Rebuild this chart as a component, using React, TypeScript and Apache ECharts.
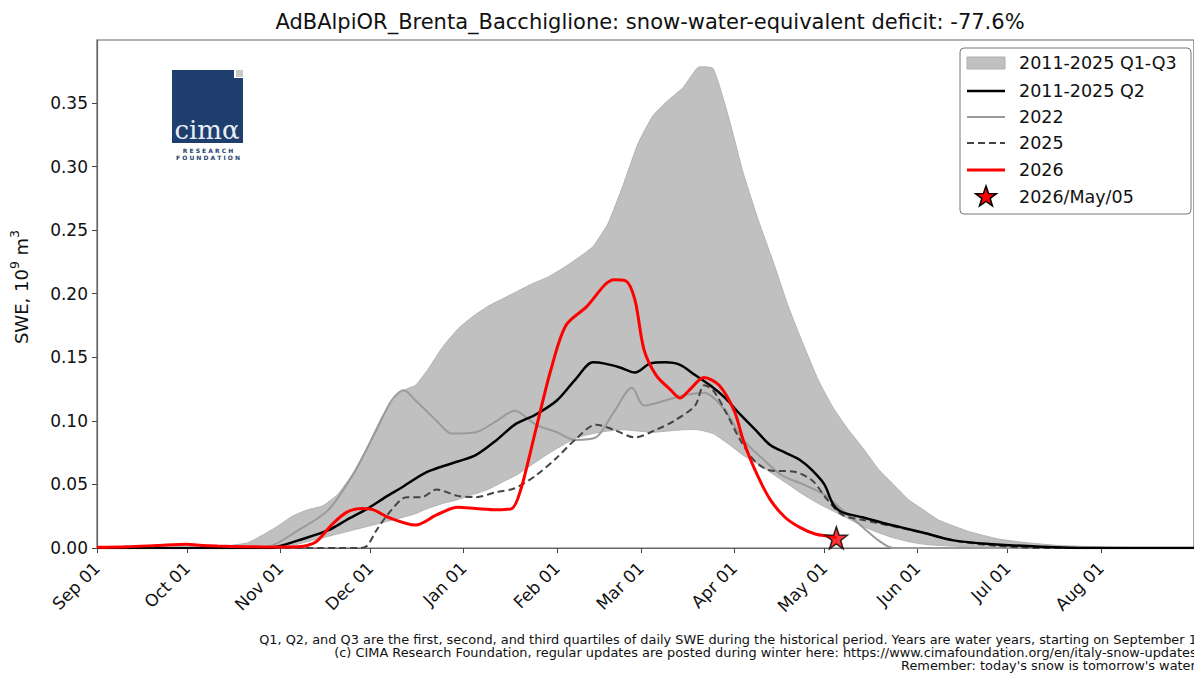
import React, { useEffect, useRef } from "react";
import * as echarts from "echarts";

// ---------- data (day index from Sep 01 of water year) ----------
const monthTicks = [0, 30, 61, 91, 122, 153, 181, 212, 242, 273, 303, 334];
const monthLabels = ["Sep 01", "Oct 01", "Nov 01", "Dec 01", "Jan 01", "Feb 01", "Mar 01", "Apr 01", "May 01", "Jun 01", "Jul 01", "Aug 01"];
const yTicks = [0, 0.05, 0.1, 0.15, 0.2, 0.25, 0.3, 0.35];

const bandDays = [0, 40, 50, 55, 60, 65, 70, 75, 80, 85, 90, 95, 100, 103, 106, 110, 115, 120, 125, 130, 135, 140, 145, 150, 155, 160, 165, 170, 175, 180, 185, 190, 195, 200, 205, 210, 215, 220, 225, 230, 235, 240, 245, 250, 255, 260, 265, 270, 275, 280, 290, 300, 310, 320, 340, 365];
const q3Values = [0, 0.001, 0.004, 0.01, 0.017, 0.025, 0.03, 0.033, 0.042, 0.058, 0.08, 0.104, 0.12, 0.125, 0.128, 0.14, 0.158, 0.172, 0.182, 0.19, 0.196, 0.202, 0.208, 0.213, 0.22, 0.228, 0.237, 0.255, 0.285, 0.318, 0.34, 0.352, 0.362, 0.378, 0.377, 0.34, 0.295, 0.258, 0.225, 0.19, 0.16, 0.132, 0.11, 0.093, 0.078, 0.062, 0.05, 0.038, 0.03, 0.022, 0.013, 0.007, 0.004, 0.002, 0.0005, 0];
const q1Values = [0, 0, 0, 0, 0, 0.002, 0.005, 0.008, 0.011, 0.014, 0.017, 0.02, 0.023, 0.025, 0.027, 0.031, 0.035, 0.038, 0.042, 0.046, 0.052, 0.058, 0.066, 0.074, 0.081, 0.087, 0.09, 0.092, 0.093, 0.092, 0.091, 0.092, 0.093, 0.093, 0.09, 0.082, 0.073, 0.066, 0.058, 0.05, 0.042, 0.035, 0.029, 0.023, 0.017, 0.012, 0.008, 0.005, 0.003, 0.002, 0.001, 0, 0, 0, 0, 0];

const q2Days = [0, 57, 60, 67, 77, 83, 90, 96, 101, 110, 120, 126, 133, 139, 146, 153, 159, 165, 169, 174, 179, 184, 189, 194, 199, 204, 209, 214, 219, 224, 229, 234, 238, 242, 245, 248, 255, 261, 268, 275, 285, 298, 314, 330, 365];
const q2Values = [0, 0, 0.001, 0.006, 0.014, 0.022, 0.031, 0.04, 0.047, 0.06, 0.068, 0.073, 0.085, 0.097, 0.105, 0.116, 0.132, 0.146, 0.145, 0.142, 0.138, 0.145, 0.146, 0.144, 0.136, 0.128, 0.118, 0.105, 0.093, 0.081, 0.075, 0.069, 0.061, 0.05, 0.034, 0.028, 0.024, 0.02, 0.016, 0.012, 0.006, 0.003, 0.001, 0, 0];

const y2022Days = [0, 50, 57, 67, 77, 86, 93, 98, 102, 106, 113, 118, 126, 133, 139, 146, 153, 159, 166, 172, 178, 182, 189, 195, 202, 209, 215, 222, 228, 235, 242, 248, 255, 260, 265, 365];
const y2022Values = [0, 0, 0.001, 0.014, 0.03, 0.061, 0.093, 0.116, 0.124, 0.116, 0.1, 0.09, 0.091, 0.1, 0.108, 0.097, 0.091, 0.085, 0.087, 0.107, 0.126, 0.112, 0.116, 0.12, 0.122, 0.108, 0.085, 0.069, 0.057, 0.05, 0.042, 0.03, 0.016, 0.006, 0, 0];

const y2025Days = [0, 88, 90, 93, 98, 103, 108, 113, 120, 126, 133, 139, 146, 153, 159, 166, 172, 179, 186, 192, 199, 202, 205, 209, 214, 219, 224, 232, 238, 243, 248, 255, 265, 275, 285, 298, 314, 365];
const y2025Values = [0, 0, 0.002, 0.014, 0.03, 0.04, 0.04, 0.046, 0.041, 0.04, 0.044, 0.047, 0.057, 0.071, 0.085, 0.097, 0.093, 0.087, 0.093, 0.1, 0.112, 0.128, 0.124, 0.108, 0.085, 0.068, 0.061, 0.06, 0.053, 0.038, 0.026, 0.022, 0.017, 0.012, 0.006, 0.002, 0, 0];

const y2026Days = [0, 10, 20, 30, 35, 40, 50, 60, 67, 70, 73, 78, 83, 88, 92, 97, 106, 113, 120, 126, 133, 138, 141, 146, 151, 156, 163, 169, 172, 176, 179, 182, 186, 191, 194, 197, 202, 207, 212, 215, 219, 224, 229, 234, 239, 244, 246];
const y2026Values = [0.0005, 0.001, 0.002, 0.003, 0.002, 0.0015, 0.001, 0.0008, 0.001, 0.002, 0.005, 0.018, 0.028, 0.031, 0.03, 0.024, 0.018, 0.026, 0.032, 0.031, 0.03, 0.031, 0.046, 0.093, 0.14, 0.175, 0.19, 0.207, 0.211, 0.21, 0.195, 0.156, 0.136, 0.124, 0.118, 0.124, 0.134, 0.128, 0.108, 0.085, 0.061, 0.038, 0.024, 0.016, 0.011, 0.009, 0.008];

const todayDay = 246;
const todayValue = 0.008;

const titleText = "AdBAlpiOR_Brenta_Bacchiglione: snow-water-equivalent deficit: -77.6%";
const legendLabels = ["2011-2025 Q1-Q3", "2011-2025 Q2", "2022", "2025", "2026", "2026/May/05"];
const footerLines = [
  "Q1, Q2, and Q3 are the first, second, and third quartiles of daily SWE during the historical period. Years are water years, starting on September 1.",
  "(c) CIMA Research Foundation, regular updates are posted during winter here: https://www.cimafoundation.org/en/italy-snow-updates/",
  "Remember: today's snow is tomorrow's water!",
];

const FONT = "DejaVu Sans";

function zip(xs: number[], ys: number[]) {
  return xs.map((x, i) => [x, ys[i]]);
}

function starPoints(cx: number, cy: number, r: number) {
  const pts: number[][] = [];
  for (let i = 0; i < 10; i++) {
    const a = (-90 + i * 36) * Math.PI / 180;
    const rr = i % 2 === 0 ? r : r * 0.4;
    pts.push([cx + rr * Math.cos(a), cy + rr * Math.sin(a)]);
  }
  return pts;
}

const starSymbol = (() => {
  const p = starPoints(0, 0, 1);
  return "path://" + p.map((q, i) => (i ? "L" : "M") + q[0].toFixed(4) + "," + q[1].toFixed(4)).join("") + "Z";
})();

function measure(text: string, font: string) {
  const c = document.createElement("canvas").getContext("2d");
  if (!c) return text.length * 10;
  c.font = font;
  return c.measureText(text).width;
}

export default function App() {
  const ref = useRef<HTMLDivElement>(null);
  useEffect(() => {
    if (!ref.current) return;
    const chart = echarts.init(ref.current, null, { renderer: "svg" });

    const legendX = 967;
    const rowY = [63, 91, 117, 143, 170, 197];

    // y-axis label with superscripts
    const big = `18px '${FONT}'`;
    const small = `12.5px '${FONT}'`;
    const parts = [
      { t: "SWE, 10", f: big, dy: 0 },
      { t: "9", f: small, dy: -7 },
      { t: " m", f: big, dy: 0 },
      { t: "3", f: small, dy: -7 },
    ];
    const widths = parts.map((p) => measure(p.t, p.f));
    const total = widths.reduce((a, b) => a + b, 0);
    let cursor = -total / 2;
    const yLabelChildren = parts.map((p, i) => {
      const el = { type: "text", x: cursor, y: p.dy, style: { text: p.t, font: p.f, fill: "#111", align: "left", verticalAlign: "middle" } };
      cursor += widths[i];
      return el;
    });

    const graphic: any[] = [
      // title
      { type: "text", x: 650, y: 22, style: { text: titleText, font: `21px '${FONT}'`, fill: "#111", align: "center", verticalAlign: "middle" } },
      // y label
      { type: "group", x: 21, y: 287, rotation: Math.PI / 2, children: yLabelChildren },
      // logo
      { type: "rect", shape: { x: 172, y: 70, width: 71, height: 73 }, style: { fill: "#1e3e6d" } },
      { type: "rect", shape: { x: 234, y: 69, width: 10, height: 9 }, style: { fill: "#fff" } },
      { type: "rect", shape: { x: 236, y: 70, width: 7, height: 7 }, style: { fill: "#c8c8c8" } },
      { type: "text", x: 207, y: 130, style: { text: "cimα", font: `26px 'DejaVu Serif'`, fill: "#e8eef6", align: "center", verticalAlign: "middle" } },
      { type: "text", x: 208, y: 150, style: { text: "R E S E A R C H", font: `bold 6px '${FONT}'`, fill: "#1e3e6d", align: "center", verticalAlign: "middle" } },
      { type: "text", x: 208, y: 157, style: { text: "F O U N D A T I O N", font: `bold 6px '${FONT}'`, fill: "#1e3e6d", align: "center", verticalAlign: "middle" } },
      // legend
      { type: "rect", shape: { x: 960, y: 48, width: 231, height: 166, r: 4 }, style: { fill: "rgba(255,255,255,0.85)", stroke: "#777", lineWidth: 1 }, z: 10 },
      { type: "rect", shape: { x: legendX, y: rowY[0] - 6, width: 38, height: 12 }, style: { fill: "#c0c0c0", stroke: "#b0b0b0", lineWidth: 1 }, z: 11 },
      { type: "line", shape: { x1: legendX, y1: rowY[1], x2: legendX + 38, y2: rowY[1] }, style: { stroke: "#000", lineWidth: 2.5 }, z: 11 },
      { type: "line", shape: { x1: legendX, y1: rowY[2], x2: legendX + 38, y2: rowY[2] }, style: { stroke: "#9a9a9a", lineWidth: 2 }, z: 11 },
      { type: "line", shape: { x1: legendX, y1: rowY[3], x2: legendX + 38, y2: rowY[3] }, style: { stroke: "#444", lineWidth: 2, lineDash: [7, 4] }, z: 11 },
      { type: "line", shape: { x1: legendX, y1: rowY[4], x2: legendX + 38, y2: rowY[4] }, style: { stroke: "#ff0000", lineWidth: 3 }, z: 11 },
      { type: "polygon", shape: { points: starPoints(legendX + 19, rowY[5], 11) }, style: { fill: "#ff0000", stroke: "#000", lineWidth: 1.5 }, z: 11 },
      ...legendLabels.map((t, i) => ({ type: "text", x: 1019, y: rowY[i], z: 11, style: { text: t, font: `17.5px '${FONT}'`, fill: "#111", align: "left", verticalAlign: "middle" } })),
      // footer
      ...footerLines.map((t, i) => ({ type: "text", x: 1201, y: 639 + i * 13, style: { text: t, font: `12.9px '${FONT}'`, fill: "#111", align: "right", verticalAlign: "middle" } })),
    ];

    chart.setOption({
      animation: false,
      backgroundColor: "#fff",
      grid: { left: 97, top: 40, width: 1107, height: 508, show: true, borderColor: "#666", borderWidth: 1.2, backgroundColor: "transparent" },
      xAxis: {
        type: "value", min: 0, max: 365,
        splitLine: { show: false },
        axisLine: { lineStyle: { color: "#666", width: 1.2 } },
        axisTick: { customValues: monthTicks, length: 5, lineStyle: { color: "#444" } },
        axisLabel: {
          customValues: monthTicks, rotate: 45, margin: 17,
          formatter: (v: number) => monthLabels[monthTicks.indexOf(v)] ?? "",
          fontFamily: FONT, fontSize: 17, color: "#111",
        },
      },
      yAxis: {
        type: "value", min: 0, max: 0.3995,
        splitLine: { show: false },
        axisLine: { show: true, lineStyle: { color: "#666", width: 1.2 } },
        axisTick: { show: true, customValues: yTicks, length: 5, lineStyle: { color: "#444" } },
        axisLabel: {
          customValues: yTicks, margin: 9,
          formatter: (v: number) => v.toFixed(2),
          fontFamily: FONT, fontSize: 17, color: "#111",
        },
      },
      series: [
        {
          type: "custom", name: "2011-2025 Q1-Q3", coordinateSystem: "cartesian2d", clip: true,
          data: [[0, 0]], z: 1,
          renderItem: (_params: any, api: any) => {
            const upper = bandDays.map((d, i) => api.coord([d, q3Values[i]]));
            const lower = bandDays.map((d, i) => api.coord([d, q1Values[i]])).reverse();
            return { type: "polygon", shape: { points: upper.concat(lower), smooth: 0.15 }, style: { fill: "#c0c0c0", stroke: "#b2b2b2", lineWidth: 1 } };
          },
        },
        { type: "line", name: "2022", data: zip(y2022Days, y2022Values), showSymbol: false, smooth: 0.3, lineStyle: { color: "#9a9a9a", width: 2 }, z: 2 },
        { type: "line", name: "2025", data: zip(y2025Days, y2025Values), showSymbol: false, smooth: 0.3, lineStyle: { color: "#444", width: 2, type: [7, 4] }, z: 3 },
        { type: "line", name: "2011-2025 Q2", data: zip(q2Days, q2Values), showSymbol: false, smooth: 0.3, lineStyle: { color: "#000", width: 2.5 }, z: 4 },
        { type: "line", name: "2026", data: zip(y2026Days, y2026Values), showSymbol: false, smooth: 0.3, lineStyle: { color: "#ff0000", width: 3 }, z: 5 },
        { type: "scatter", name: "2026/May/05", data: [[todayDay, todayValue]], symbol: starSymbol, symbolSize: 22, itemStyle: { color: "#ff0000", borderColor: "#000", borderWidth: 1.5 }, z: 6 },
      ],
      graphic,
    });
    return () => chart.dispose();
  }, []);
  return <div ref={ref} style={{ position: "fixed", left: 0, top: 0, width: 1194, height: 675, background: "#fff" }} />;
}
